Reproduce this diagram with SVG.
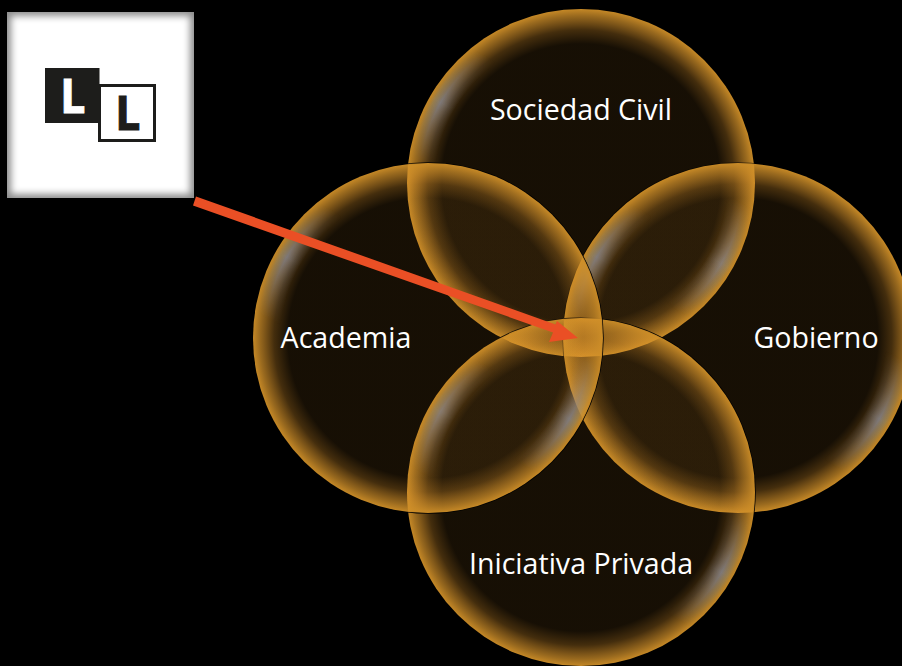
<svg xmlns="http://www.w3.org/2000/svg" width="902" height="666" viewBox="0 0 902 666">
<style>
.lbl{font-family:"Open Sans","Noto Sans","Liberation Sans",sans-serif;font-size:28.600px;fill:#fff;text-anchor:middle}
.logo{font-family:"DejaVu Sans",sans-serif;font-weight:700;font-size:47px;stroke-width:.8}
.edge{fill:none;stroke:#000;stroke-width:1.5}
</style>
<defs>
<radialGradient id="glow" cx="0.5" cy="0.5" r="0.5">
<stop offset="0" stop-color="#e3982c" stop-opacity="0.1"/>
<stop offset="0.8" stop-color="#e3982c" stop-opacity="0.1"/>
<stop offset="0.88" stop-color="#e3982c" stop-opacity="0.3"/>
<stop offset="0.96" stop-color="#d4922a" stop-opacity="0.72"/>
<stop offset="1" stop-color="#cf8f28" stop-opacity="0.95"/>
</radialGradient>
<radialGradient id="band" cx="0.5" cy="0.5" r="0.5">
<stop offset="0.84" stop-color="#7f8599" stop-opacity="0"/>
<stop offset="0.93" stop-color="#7f8599" stop-opacity="0.75"/>
<stop offset="0.97" stop-color="#8f8f80" stop-opacity="0.45"/>
<stop offset="1" stop-color="#c8943a" stop-opacity="0"/>
</radialGradient>
<linearGradient id="diag" x1="0.59" y1="0.343" x2="0.41" y2="0.657">
<stop offset="0" stop-color="#fff" stop-opacity="0"/>
<stop offset="0.5" stop-color="#fff" stop-opacity="1"/>
<stop offset="1" stop-color="#fff" stop-opacity="0"/>
</linearGradient>
<mask id="m" maskContentUnits="objectBoundingBox" x="0" y="0" width="1" height="1">
<rect width="1" height="1" fill="url(#diag)"/>
</mask>
<filter id="soft" x="-10%" y="-10%" width="120%" height="120%"><feGaussianBlur stdDeviation="3.5"/></filter>
<clipPath id="boxclip"><rect x="7" y="12" width="187" height="186"/></clipPath>
</defs>
<rect width="902" height="666" fill="#000"/>
<g id="node-sociedad">
<circle cx="581" cy="183" r="174" fill="url(#glow)"/>
<circle cx="581" cy="183" r="174" fill="url(#band)" mask="url(#m)"/>
</g>
<g id="node-gobierno">
<circle class="edge" cx="738" cy="338" r="175" style="stroke-opacity:.6"/>
<circle cx="738" cy="338" r="175" fill="url(#glow)"/>
<circle cx="738" cy="338" r="175" fill="url(#band)" mask="url(#m)"/>
</g>
<g id="node-iniciativa">
<circle class="edge" cx="581" cy="492" r="174"/>
<circle cx="581" cy="492" r="174" fill="url(#glow)"/>
<circle cx="581" cy="492" r="174" fill="url(#band)" mask="url(#m)"/>
</g>
<g id="node-academia">
<circle class="edge" cx="428" cy="338" r="175"/>
<circle cx="428" cy="338" r="175" fill="url(#glow)"/>
<circle cx="428" cy="338" r="175" fill="url(#band)" mask="url(#m)"/>
</g>
<g id="labels">
<text class="lbl" x="581" y="120">Sociedad Civil</text>
<text class="lbl" x="346" y="348">Academia</text>
<text class="lbl" x="816" y="348">Gobierno</text>
<text class="lbl" x="581" y="574">Iniciativa Privada</text>
</g>
<g id="node-logo">
<rect x="7" y="12" width="187" height="186" fill="#8c8c8c"/>
<g clip-path="url(#boxclip)"><rect x="11" y="16" width="179" height="178" fill="#fff" filter="url(#soft)"/></g>
<rect x="45" y="68" width="54.500" height="55" fill="#1d1d1b"/>
<rect x="99.500" y="85.500" width="55" height="55" fill="#fff" stroke="#1d1d1b" stroke-width="3"/>
<text class="logo" transform="translate(60.500 113) scale(.82 1)" fill="#fff" stroke="#fff">L</text>
<text class="logo" transform="translate(115.500 130) scale(.82 1)" fill="#1d1d1b" stroke="#1d1d1b">L</text>
</g>
<g id="connectors">
<polygon fill="#ea4f25" points="196,196.500 193,205.500 553,332.500 549,342 578,338 557,321 555.500,324.500"/>
</g>
</svg>
